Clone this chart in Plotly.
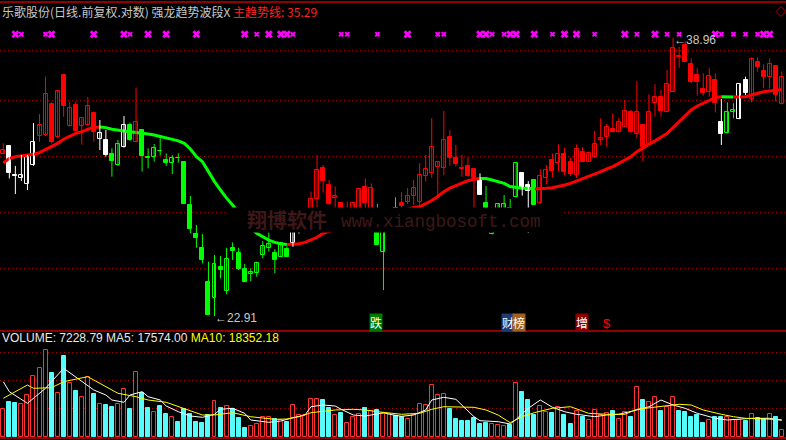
import math
import plotly.graph_objects as go

# ---------------- data ----------------
open_ = [31.20, 31.68, 29.95, 29.82, 29.48, 30.57, 32.31, 32.35, 34.32, 32.25,
         36.27, 32.93, 34.26, 32.93, 32.99, 33.76, 32.13, 32.05, 31.18, 30.57,
         31.64, 32.98, 31.90, 32.66, 31.04, 31.00, 31.40, 30.84, 30.69, 30.98,
         30.73, 28.31, 26.78, 26.09, 24.46, 23.69, 25.15, 24.04, 26.06, 25.82,
         25.04, 24.80, 24.85, 25.73, 26.09, 25.82, 25.65, 26.02, 26.31, 27.10,
         27.20, 27.93, 28.62, 30.40, 29.41, 28.68, 28.40, 27.88, 27.93, 27.93,
         29.28, 27.93, 27.88, 25.86, 27.10, 28.14, 28.40, 28.49, 28.82, 28.45,
         29.93, 30.07, 30.46, 30.40, 32.23, 30.94, 30.36, 30.50, 30.32, 29.69,
         28.40, 26.78, 27.77, 28.04, 28.14, 28.73, 30.07, 29.41, 29.69, 28.40,
         29.82, 30.84, 30.65, 31.20, 30.73, 30.00, 31.30, 30.75, 31.04, 32.02,
         32.21, 32.71, 32.51, 32.83, 33.78, 32.40, 32.98, 31.80, 34.37, 34.80,
         33.82, 35.13, 37.59, 38.40, 37.02, 36.27, 35.32, 35.09, 35.93, 33.14,
         32.45, 33.78, 33.34, 35.93, 34.65, 37.16, 36.57, 36.11, 36.88, 34.30]
high = [31.84, 31.68, 30.50, 31.14, 31.14, 33.10, 33.67, 36.16, 34.43, 35.25,
        36.34, 34.45, 34.47, 33.40, 34.78, 33.82, 33.29, 32.66, 31.54, 32.05,
        33.54, 33.12, 35.41, 32.72, 31.54, 31.80, 32.35, 31.24, 31.14, 31.24,
        30.73, 28.80, 27.25, 26.78, 25.41, 25.73, 25.68, 26.09, 26.36, 26.09,
        25.30, 25.09, 25.41, 26.43, 26.87, 26.02, 26.39, 26.17, 27.61, 27.83,
        27.93, 29.04, 31.14, 30.55, 29.69, 29.33, 28.40, 28.49, 28.49, 29.17,
        29.78, 29.50, 28.36, 27.93, 27.83, 28.73, 29.01, 29.23, 29.69, 30.65,
        31.14, 33.40, 30.73, 33.87, 32.66, 31.74, 31.14, 31.00, 30.32, 30.07,
        29.35, 27.83, 28.36, 28.85, 28.63, 30.65, 30.07, 29.63, 29.69, 30.31,
        30.55, 31.24, 31.78, 31.56, 30.96, 31.77, 31.62, 31.34, 32.60, 33.40,
        33.04, 33.72, 33.40, 34.58, 33.93, 35.86, 33.02, 34.96, 35.64, 35.25,
        36.62, 38.96, 38.28, 38.69, 37.44, 36.74, 36.39, 36.74, 36.39, 34.65,
        34.43, 34.37, 35.64, 36.16, 37.51, 37.51, 37.02, 37.44, 36.95, 36.50]
low = [31.20, 29.78, 28.91, 29.63, 29.13, 30.50, 31.94, 32.29, 31.84, 32.15,
       33.50, 32.87, 32.59, 31.76, 32.98, 31.94, 31.44, 31.04, 29.88, 30.50,
       31.58, 31.99, 31.90, 30.17, 30.36, 30.75, 31.10, 30.50, 30.03, 30.69,
       28.36, 26.82, 26.09, 25.33, 22.95, 22.91, 24.61, 23.88, 25.49, 25.01,
       24.44, 24.49, 24.69, 25.57, 25.90, 24.85, 25.63, 25.63, 26.14, 26.81,
       27.10, 27.83, 28.04, 28.99, 28.31, 28.04, 27.83, 27.72, 27.77, 27.83,
       28.04, 27.83, 26.22, 24.07, 26.99, 27.67, 28.09, 28.36, 28.31, 28.14,
       29.60, 29.82, 28.85, 29.97, 30.52, 30.46, 29.88, 29.88, 28.04, 28.86,
       27.77, 26.76, 27.61, 27.93, 27.72, 28.73, 28.82, 26.84, 28.31, 28.40,
       29.45, 29.82, 30.17, 29.97, 29.92, 29.80, 30.73, 30.73, 30.96, 31.74,
       31.64, 32.53, 32.51, 32.83, 32.47, 32.15, 30.75, 31.80, 33.50, 33.50,
       33.82, 35.13, 36.78, 37.18, 35.70, 34.87, 34.87, 34.80, 33.78, 31.74,
       32.45, 33.40, 33.34, 34.92, 34.43, 36.50, 35.36, 35.36, 34.48, 34.30]
close = [31.44, 30.11, 29.92, 29.97, 31.00, 31.90, 32.98, 34.96, 31.90, 35.18,
         34.21, 34.06, 32.61, 33.40, 34.17, 32.55, 32.47, 31.14, 30.81, 31.80,
         32.98, 32.05, 33.14, 31.10, 30.94, 31.54, 31.38, 30.69, 30.94, 30.96,
         28.36, 27.04, 26.58, 25.49, 22.95, 25.30, 25.01, 25.52, 25.94, 25.06,
         24.46, 24.93, 25.33, 26.17, 26.27, 25.49, 26.31, 25.65, 27.41, 27.46,
         27.72, 28.62, 30.26, 29.65, 28.39, 28.80, 28.04, 28.09, 28.40, 29.17,
         28.40, 29.23, 26.25, 27.61, 27.51, 27.83, 28.27, 28.80, 29.23, 29.97,
         30.32, 31.60, 30.71, 32.05, 30.98, 30.61, 30.31, 29.92, 29.80, 28.86,
         27.93, 27.51, 28.36, 28.36, 27.83, 30.65, 29.23, 29.09, 28.31, 29.92,
         30.25, 30.23, 31.20, 30.15, 30.03, 31.50, 30.75, 31.24, 31.78, 32.15,
         32.83, 32.55, 33.14, 33.88, 32.51, 33.82, 31.60, 33.78, 34.76, 33.88,
         35.64, 38.16, 37.54, 37.20, 35.81, 35.77, 35.03, 36.22, 34.37, 32.40,
         33.82, 33.93, 35.64, 35.03, 37.37, 36.85, 36.16, 37.02, 34.92, 36.16]
# indicator state of each candle: R = strong, G = weak, W = turning
candle_state = ("RWWWWWRRRRRRRRRRWWGGWGR"
                "GGGGGGGGGGGGGGGGGGGGGGGGG"
                "WWRRRRRRRRRRRRGGGGRRRRRRRRRRRRRW"
                "GGGGGGWWG"
                "RRRRRRRRRRRRRRRRRRRRRRRRRRRRRR"
                "WGGWWRRRRRR")
# main trend line (主趋势线)
trend = [30.67, 30.94, 31.04, 31.08, 31.14, 31.18, 31.28, 31.46, 31.64, 31.84,
         32.09, 32.29, 32.45, 32.55, 32.71, 32.81, 32.85, 32.81, 32.71, 32.64,
         32.60, 32.55, 32.51, 32.49, 32.41, 32.35, 32.25, 32.19, 32.09, 31.99,
         31.84, 31.50, 31.04, 30.75, 30.17, 29.60, 29.13, 28.68, 28.31, 27.88,
         27.46, 27.10, 26.82, 26.65, 26.48, 26.36, 26.29, 26.26, 26.26, 26.29,
         26.36, 26.48, 26.62, 26.82, 26.94, 27.02, 27.10, 27.17, 27.25, 27.33,
         27.41, 27.48, 27.56, 27.67, 27.75, 27.86, 27.96, 28.07, 28.17, 28.21,
         28.36, 28.55, 28.77, 29.04, 29.23, 29.37, 29.50, 29.65, 29.74, 29.78,
         29.78, 29.69, 29.60, 29.50, 29.32, 29.26, 29.23, 29.23, 29.19, 29.19,
         29.23, 29.26, 29.32, 29.41, 29.50, 29.63, 29.74, 29.88, 30.03, 30.17,
         30.32, 30.46, 30.65, 30.84, 31.04, 31.34, 31.58, 31.78, 31.99, 32.23,
         32.45, 32.81, 33.18, 33.56, 33.93, 34.19, 34.37, 34.58, 34.74, 34.80,
         34.78, 34.78, 34.78, 34.80, 34.92, 35.03, 35.13, 35.19, 35.24, 35.29]
trend_state = ("R" * 17 + "G" * 31 + "R" * 32 + "G" * 9 + "R" * 31 + "G" * 2 + "R" * 8)

volume = [29610, 37850, 36770, 35350, 44790, 65720, 74070, 93920, 69300, 46960,
          87410, 57800, 49780, 42620, 64960, 46200, 35030, 34270, 32430, 35350,
          51300, 29610, 69730, 47610, 30690, 26350, 33190, 24510, 21580, 16160,
          29610, 24180, 15510, 14420, 23430, 38930, 30690, 33510, 29610, 19850,
          9000, 11500, 13660, 21580, 21580, 19090, 18000, 16160, 34270, 23430,
          23430, 40450, 40780, 39690, 30690, 23430, 25270, 14420, 20930, 24180,
          30690, 27760, 28850, 24180, 24180, 22340, 21580, 19090, 23430, 35350,
          33950, 55960, 45120, 46200, 29930, 19090, 16920, 16920, 20170, 13660,
          14750, 13660, 12580, 11500, 12250, 57800, 48370, 39690, 23430, 33190,
          27000, 25270, 32430, 23430, 13660, 27760, 21580, 18000, 28850, 23430,
          25270, 27760, 19090, 26350, 21260, 53470, 39690, 37850, 42620, 27760,
          31780, 42620, 27760, 26680, 21260, 23430, 14750, 18000, 21260, 21260,
          21580, 18000, 18000, 16920, 24180, 20170, 19090, 24180, 21260, 7228.79]
ma5_idx = [0, 1, 4, 7, 10, 12, 14, 15, 17, 18, 20, 21, 23, 24, 26, 27, 29, 31, 33, 35,
           36, 38, 40, 41, 44, 46, 48, 50, 51, 53, 55, 56, 58, 60, 61, 63, 64, 66, 68, 70,
           71, 73, 75, 76, 78, 79, 82, 84, 85, 87, 89, 91, 93, 95, 98, 100, 102, 105, 107,
           109, 111, 113, 115, 118, 120, 124, 127, 129]
ma5_val = [59540, 48690, 36110, 52380, 74070, 64960, 55960, 50540, 45120, 39690,
           37200, 45120, 48690, 43270, 39690, 33190, 27000, 22340, 20930, 24180,
           29610, 30690, 25270, 18000, 15510, 16920, 20500, 23430, 32430, 34270,
           33190, 29610, 23430, 22340, 23430, 25920, 24180, 22020, 23430, 28850,
           39690, 42620, 40450, 34270, 21580, 17240, 16160, 13660, 18760, 30690,
           39690, 31780, 27000, 24180, 21580, 23430, 24180, 28850, 32430,
           39690, 34270, 30690, 25270, 19850, 18000, 19850, 19850, 17574.00]
ma10_idx = [0, 4, 5, 8, 10, 14, 15, 18, 19, 22, 24, 27, 30, 33, 35, 38, 41, 45, 47, 49,
            51, 55, 58, 60, 62, 66, 69, 71, 73, 78, 80, 82, 84, 86, 88, 91, 94, 97, 100,
            103, 105, 108, 110, 112, 114, 116, 119, 121, 123, 125, 129]
ma10_val = [41540, 55960, 52380, 53030, 59540, 64960, 61380, 50540, 46960, 43270,
            39690, 37200, 30690, 23430, 23430, 25920, 21580, 18760, 19090, 21580,
            25920, 28850, 29610, 28850, 27000, 24180, 25270, 29610, 32430, 31780,
            28850, 23430, 15070, 21580, 25920, 30690, 32430, 25270, 24180,
            24180, 29610, 31780, 33190, 35030, 34270, 28850, 24180, 21580, 19850, 19090,
            18352.18]

cross_big = [2, 8, 15, 20, 24, 27, 32, 40, 44, 46, 47, 67, 79, 80, 84, 85, 88, 93, 95,
             103, 108, 118, 126, 127]
cross_small = [3, 7, 21, 42, 48, 56, 57, 62, 72, 73, 81, 83, 91, 98, 105, 110, 112, 119,
               121, 123, 125]
cross_level = 39.20

price_grid = [38.02, 34.56, 31.06, 27.92, 25.09]
volume_grid = [30700, 61050, 91400]

signal_text = ["跌", "财", "榜", "增"]
signal_idx = [61, 83, 84, 95]
sell_idx = 100

stock_title = "乐歌股份(日线.前复权.对数) 强龙趋势波段X"
trend_name = "主趋势线"
watermark_cn = "翔博软件"
watermark_url = "www.xiangbosoft.com"

# ---------------- layout helpers ----------------
W, H = 786, 440


def py(p):
    return 1 - p / H


n = len(close)
COL = {"R": "#ff0000", "G": "#00ff00", "W": "#ffffff"}
X_RANGE = [-0.547, 129.71]

fig = go.Figure()

# trend line, coloured by state
runs = []
start = 0
for i in range(1, n + 1):
    if i == n or trend_state[i] != trend_state[start]:
        runs.append((start, i - 1, trend_state[start]))
        start = i
for a, b, s in runs:
    a0 = max(a - 1, 0)
    fig.add_trace(go.Scatter(x=list(range(a0, b + 1)), y=trend[a0:b + 1], mode="lines",
                             line=dict(color=COL[s], width=3), hoverinfo="skip",
                             xaxis="x", yaxis="y"))

# wicks
for s in "RGW":
    xs, ys = [], []
    for i in range(n):
        if candle_state[i] == s:
            xs += [i, i, None]
            ys += [low[i], high[i], None]
    fig.add_trace(go.Scatter(x=xs, y=ys, mode="lines", line=dict(color=COL[s], width=1),
                             hoverinfo="skip", xaxis="x", yaxis="y"))

# bodies
for s in "RGW":
    for up in (True, False):
        ids = [i for i in range(n) if candle_state[i] == s and (close[i] >= open_[i]) == up]
        if not ids:
            continue
        fig.add_trace(go.Bar(x=ids, base=[open_[i] for i in ids],
                             y=[close[i] - open_[i] for i in ids], width=0.66,
                             marker=dict(color="#000000" if up else COL[s],
                                         line=dict(color=COL[s], width=1)),
                             hoverinfo="skip", xaxis="x", yaxis="y"))

# top signal crosses
fig.add_trace(go.Scatter(x=cross_big, y=[cross_level] * len(cross_big), mode="markers",
                         marker=dict(symbol="x", size=7, color="#ff00ff", line=dict(width=0)),
                         hoverinfo="skip", xaxis="x", yaxis="y"))
fig.add_trace(go.Scatter(x=cross_small, y=[cross_level] * len(cross_small), mode="markers",
                         marker=dict(symbol="x", size=5, color="#ff00ff", line=dict(width=0)),
                         hoverinfo="skip", xaxis="x", yaxis="y"))

# volume
up_ids = [i for i in range(n) if close[i] >= open_[i]]
dn_ids = [i for i in range(n) if close[i] < open_[i]]
fig.add_trace(go.Bar(x=up_ids, y=[volume[i] for i in up_ids], width=0.66,
                     marker=dict(color="#000000", line=dict(color="#ff3232", width=1)),
                     hoverinfo="skip", xaxis="x2", yaxis="y2"))
fig.add_trace(go.Bar(x=dn_ids, y=[volume[i] for i in dn_ids], width=0.66,
                     marker=dict(color="#54fcfc", line=dict(color="#54fcfc", width=1)),
                     hoverinfo="skip", xaxis="x2", yaxis="y2"))
fig.add_trace(go.Scatter(x=ma5_idx, y=ma5_val, mode="lines", line=dict(color="#ffffff", width=1),
                         hoverinfo="skip", xaxis="x2", yaxis="y2"))
fig.add_trace(go.Scatter(x=ma10_idx, y=ma10_val, mode="lines", line=dict(color="#ffff00", width=1),
                         hoverinfo="skip", xaxis="x2", yaxis="y2"))

GRID = "#a00000"
fig.update_layout(
    width=W, height=H, margin=dict(l=0, r=0, t=0, b=0, pad=0),
    paper_bgcolor="#000000", plot_bgcolor="#000000", showlegend=False,
    barmode="overlay", bargap=0,
    xaxis=dict(domain=[0, 1], range=X_RANGE, anchor="y", showgrid=False, zeroline=False,
               showticklabels=False, ticks="", showline=False),
    xaxis2=dict(domain=[0, 1], range=X_RANGE, anchor="y2", matches="x", showgrid=False,
                zeroline=False, showticklabels=False, ticks="", showline=False),
    yaxis=dict(type="log", range=[1.34760, 1.61919], domain=[py(331), py(3)],
               tickvals=price_grid, showticklabels=False, ticks="", showgrid=True,
               gridcolor=GRID, griddash="1px,3px", gridwidth=1, zeroline=False, showline=False),
    yaxis2=dict(range=[-976, 114523], domain=[py(437.5), py(331)], tickvals=volume_grid,
                showticklabels=False, ticks="", showgrid=True, gridcolor=GRID,
                griddash="1px,3px", gridwidth=1, zeroline=False, showline=False),
    font=dict(family="Noto Sans CJK SC", color="#c0c0c0"),
)

LINE_RED = "#c00000"
shapes = [
    dict(type="line", xref="paper", yref="paper", x0=0, x1=1, y0=py(2), y1=py(2),
         line=dict(color=LINE_RED, width=1.5), layer="above"),
    dict(type="line", xref="paper", yref="paper", x0=0, x1=1, y0=py(331), y1=py(331),
         line=dict(color=LINE_RED, width=1.5), layer="above"),
    dict(type="line", xref="paper", yref="paper", x0=0, x1=1, y0=py(438), y1=py(438),
         line=dict(color=LINE_RED, width=1.5), layer="above"),
    # watermark backing box
    dict(type="rect", xref="paper", yref="paper", x0=227 / W, x1=562 / W, y0=py(232.5),
         y1=py(207.5), fillcolor="#000000", line=dict(width=0), layer="above"),
    # small diamond icon
    dict(type="path", xref="paper", yref="paper",
         path=f"M {776 / W},{py(11.5)} L {781 / W},{py(6.5)} L {786 / W},{py(11.5)} "
              f"L {781 / W},{py(16.5)} Z",
         line=dict(color=LINE_RED, width=1), fillcolor="rgba(0,0,0,0)", layer="above"),
]

lo_i = low.index(min(low))
hi_i = high.index(max(high))

WM = "#3e1818"
ann = [
    dict(xref="paper", yref="paper", x=0, y=py(11.5), xanchor="left", yanchor="middle",
         showarrow=False,
         text=f"{stock_title} <span style='color:#ff2020'>{trend_name}: {trend[-1]:.2f}</span>",
         font=dict(size=12, color="#c8c8c8", family="Noto Sans CJK SC")),
    dict(xref="paper", yref="paper", x=0, y=py(338), xanchor="left", yanchor="middle",
         showarrow=False,
         text=(f"VOLUME: {volume[-1]:.2f} MA5: {ma5_val[-1]:.2f} "
               f"<span style='color:#ffff00'>MA10: {ma10_val[-1]:.2f}</span>"),
         font=dict(size=12, color="#e8e8e8", family="Liberation Sans")),
    dict(x=lo_i, y=math.log10(low[lo_i]), xref="x", yref="y", xanchor="left", yanchor="middle",
         xshift=-2, yshift=-2.5, showarrow=False, text=f"←{low[lo_i]:.2f}",
         font=dict(size=12, color="#c8c8c8", family="Liberation Sans")),
    dict(x=hi_i, y=math.log10(high[hi_i]), xref="x", yref="y", xanchor="left", yanchor="middle",
         xshift=-1, yshift=-2.5, showarrow=False, text=f"←{high[hi_i]:.2f}",
         font=dict(size=12, color="#c8c8c8", family="Liberation Sans")),
    dict(xref="paper", yref="paper", x=245 / W, y=py(219.5), xanchor="left", yanchor="middle",
         showarrow=False, text=f"<b>{watermark_cn}</b>",
         font=dict(size=20, color=WM, family="Noto Sans CJK SC")),
    dict(xref="paper", yref="paper", x=339 / W, y=py(222), xanchor="left", yanchor="middle",
         showarrow=False, text=watermark_url,
         font=dict(size=17.5, color=WM, family="Liberation Mono")),
]
sig_bg = ["#007800", "#1e3a78", "#a0601e", "#8b0000"]
sig_shift = [-2, -3, 1.5, -2]
for t, i, bg, sh in zip(signal_text, signal_idx, sig_bg, sig_shift):
    ann.append(dict(x=i, xref="x", y=py(322.5), yref="paper", xanchor="left", yanchor="middle",
                    xshift=sh, showarrow=False, text=t, bgcolor=bg, borderpad=0,
                    font=dict(size=12, color="#ffffff", family="Noto Sans CJK SC")))
ann.append(dict(x=sell_idx, xref="x", y=py(323.5), yref="paper", xanchor="center",
                yanchor="middle", showarrow=False, text="$",
                font=dict(size=13, color="#ff0000", family="Liberation Sans")))

fig.update_layout(shapes=shapes, annotations=ann)

fig.write_html("out.html", config={"displayModeBar": False},
               post_script="document.body.style.margin='0';document.body.style.padding='0';")
